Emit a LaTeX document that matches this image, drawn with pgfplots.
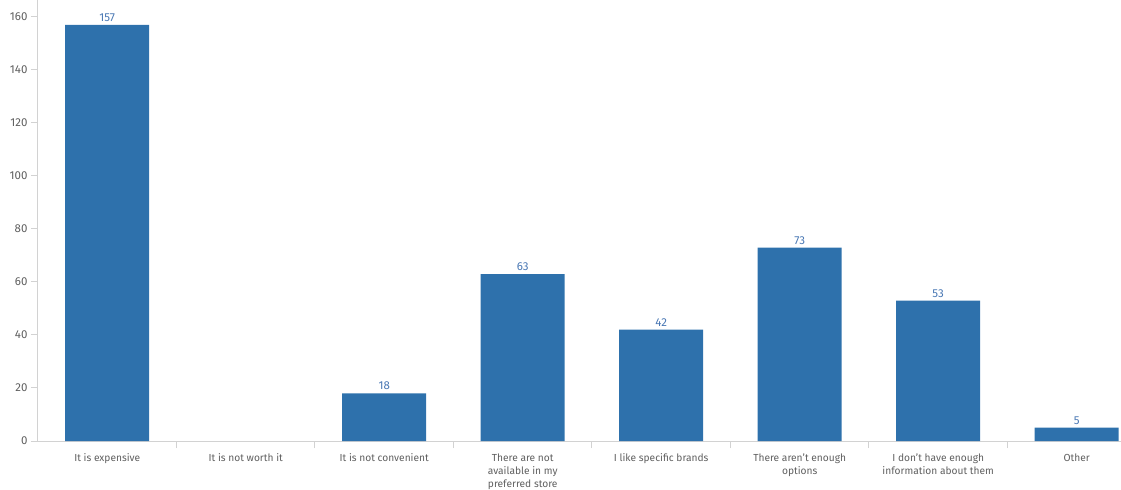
\documentclass[border=0pt]{standalone}
\usepackage{fontspec}
\setmainfont{Fira Sans}
\usepackage{pgfplots}
\pgfplotsset{compat=1.18}
\definecolor{barc}{RGB}{46,113,172}
\definecolor{vlab}{RGB}{74,120,180}
\definecolor{tlab}{RGB}{95,95,95}
\definecolor{axc}{RGB}{210,210,210}
\begin{document}
\begin{tikzpicture}
\begin{axis}[
  scale only axis,
  width=1108bp, height=441bp,
  xmin=-0.5, xmax=7.5, ymin=0, ymax=166.4,
  axis x line*=bottom, axis y line*=left,
  axis line style={draw=axc, line width=1bp},
  tick align=outside,
  major tick length=7bp, minor tick length=7bp,
  ytick={0,20,...,160},
  y tick style={draw=axc, line width=1bp},
  xtick={0,...,7},
  minor xtick={0.5,1.5,...,6.5},
  major x tick style={draw=none},
  minor x tick style={draw=axc, line width=1bp},
  xticklabels={{It is expensive},{It is not worth it},{It is not convenient},{There are not\\available in my\\preferred store},{I like specific brands},{There aren't enough\\options},{I don't have enough\\information about them},{Other}},
  xticklabel style={align=center, text=tlab, font=\fontsize{10.2bp}{13bp}\selectfont, yshift=-2.5bp},
  yticklabel style={text=tlab, font=\fontsize{11.5bp}{13bp}\selectfont},
  /pgf/number format/assume math mode=true,
  ybar, bar width=84bp,
  nodes near coords,
  every node near coord/.append style={text=vlab, font=\fontsize{11.5bp}{13bp}\selectfont, inner sep=3bp},
  clip=false,
]
\addplot[fill=barc, draw=none] coordinates {(0,157) (2,18) (3,63) (4,42) (5,73) (6,53) (7,5)};
\end{axis}
\pgfresetboundingbox
\path[use as bounding box] (-38bp,-49bp) rectangle (1083bp,441bp);
\end{tikzpicture}
\end{document}
